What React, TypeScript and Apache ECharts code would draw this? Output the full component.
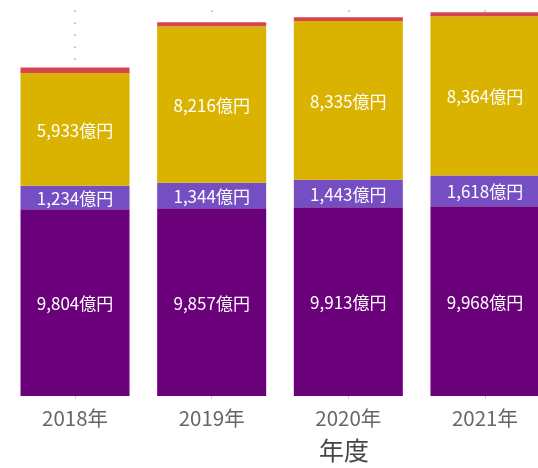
import React, { useEffect, useRef } from 'react';
import * as echarts from 'echarts';

const categories = ['2018年', '2019年', '2020年', '2021年'];
const valuesBase = [9804, 9857, 9913, 9968];
const valuesMid = [1234, 1344, 1443, 1618];
const valuesUpper = [5933, 8216, 8335, 8364];
const valuesTop = [290, 220, 200, 200];
const axisTitle = '年度';

const FONT = '"Noto Sans CJK JP", "Noto Sans", sans-serif';

const fmt = (p: any) => Number(p.value).toLocaleString('en-US') + '億円';

export default function App() {
  const ref = useRef<HTMLDivElement>(null);
  useEffect(() => {
    if (!ref.current) return;
    const chart = echarts.init(ref.current, undefined, { renderer: 'svg' });
    const label = {
      show: true,
      position: 'inside',
      color: '#ffffff',
      fontSize: 17,
      fontFamily: FONT,
      formatter: fmt,
    };
    const mk = (name: string, data: number[], color: string, withLabel: boolean) => ({
      name,
      type: 'bar',
      stack: 'total',
      barWidth: 109,
      z: 2,
      data,
      itemStyle: { color },
      label: withLabel ? label : { show: false },
      emphasis: { disabled: true },
    });
    chart.setOption({
      animation: false,
      textStyle: { fontFamily: FONT },
      grid: { left: 6.7, right: -15.3, top: 0, bottom: 72, outerBoundsMode: 'none', containLabel: false },
      xAxis: {
        type: 'category',
        data: categories,
        axisLine: { show: false },
        axisTick: { show: true, alignWithLabel: true, length: 3, lineStyle: { color: '#cccccc' } },
        axisLabel: { color: '#666666', fontSize: 20.5, margin: 11, fontFamily: FONT },
        splitLine: { show: false },
      },
      yAxis: { type: 'value', min: 0, max: 20800, show: false, splitLine: { show: false } },
      series: [
        {
          name: 'guide',
          type: 'line',
          data: [],
          z: 0,
          silent: true,
          markLine: {
            z: 0,
            silent: true,
            symbol: ['none', 'none'],
            label: { show: false },
            lineStyle: { color: '#aaaaaa', type: [1.5, 10.5], width: 1.5 },
            data: categories.map((c) => ({ xAxis: c })),
          },
        },
        mk('基礎', valuesBase, '#6B007B', true),
        mk('中間', valuesMid, '#744EC2', true),
        mk('上部', valuesUpper, '#D9B300', true),
        mk('その他', valuesTop, '#D64550', false),
      ],
      graphic: [
        {
          type: 'text',
          x: 344,
          y: 436,
          style: {
            text: axisTitle,
            fill: '#444444',
            fontSize: 25,
            fontFamily: FONT,
            align: 'center',
            verticalAlign: 'top',
          },
        },
      ],
    });
    return () => chart.dispose();
  }, []);
  return (
    <div
      ref={ref}
      style={{ position: 'fixed', left: 0, top: 0, width: 538, height: 468, overflow: 'hidden' }}
    />
  );
}
